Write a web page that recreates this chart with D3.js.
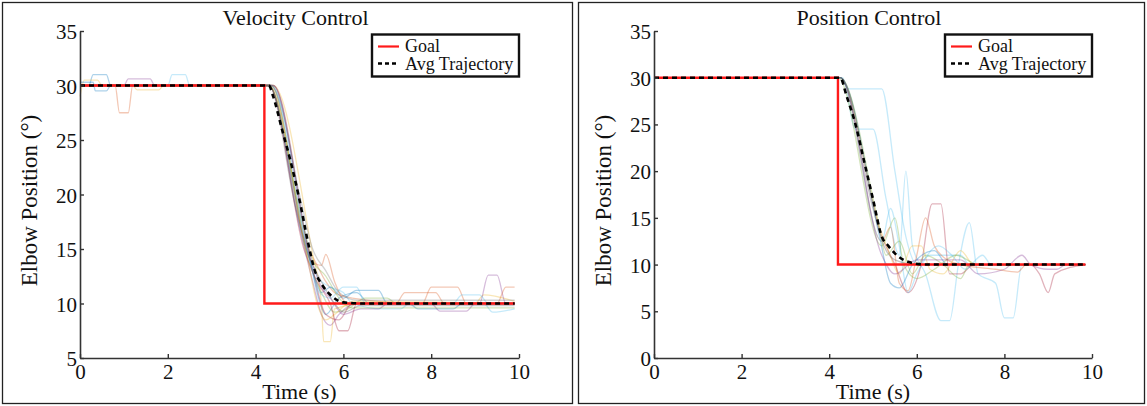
<!DOCTYPE html>
<html>
<head>
<meta charset="utf-8">
<script src="https://cdn.jsdelivr.net/npm/d3@7"></script>
<style>
  body { margin: 0; background: #fff; }
  svg text { font-family: "Liberation Serif", "Times New Roman", serif; fill: #111; }
</style>
</head>
<body>
<div id="chart"></div>
<script>
// Data
const xTicks = [0, 2, 4, 6, 8, 10];
const velTicks = [5, 10, 15, 20, 25, 30, 35];
const posTicks = [0, 5, 10, 15, 20, 25, 30, 35];

const velGoal = [[0, 30], [4.2, 30], [4.2, 10], [9.9, 10]];
const posGoal = [[0, 30], [4.2, 30], [4.2, 10], [9.85, 10]];

const velAvg = [[0, 30], [4.3, 30], [4.4, 29], [4.6, 26], [4.8, 23], [5.0, 19.5], [5.2, 15.5],
  [5.35, 13], [5.5, 11.8], [5.7, 10.8], [6.0, 10.1], [6.5, 10], [9.9, 10]];
const posAvg = [[0, 30], [4.25, 30], [4.4, 28], [4.6, 25], [4.8, 21], [5.0, 17], [5.2, 13],
  [5.35, 12], [5.5, 11.2], [5.8, 10.3], [6.2, 10], [9.85, 10]];

const velTrials = [
  [[0,30],[0.2,30],[0.3,31],[0.6,31],[0.7,30],[4.35,30],[5.2,15],[5.4,11],[5.6,9],[5.9,10.5],[6.3,11],[6.6,10],[7.5,10],[7.7,9.5],[8.5,9.5],[8.7,10],[9.9,10]],
  [[0,30],[0.8,30],[0.9,27.5],[1.1,27.5],[1.2,30],[4.3,30],[5.1,16],[5.4,13.5],[5.6,12],[5.8,11],[6.2,10.5],[7.8,10],[8.0,11.5],[8.6,11.5],[8.8,10],[9.9,10]],
  [[0,29],[0.1,30.5],[0.4,30.5],[0.5,30],[4.4,30],[5.3,14.5],[5.5,10],[5.55,6.5],[5.7,6.5],[5.8,9.5],[6.5,10],[9.0,10],[9.2,10.8],[9.9,10.2]],
  [[0,30],[1.0,30],[1.1,30.6],[1.6,30.6],[1.7,30],[4.3,30],[5.0,17],[5.3,12],[5.5,9],[5.7,8],[5.9,9],[6.3,10],[9.1,10],[9.3,12.6],[9.5,12.6],[9.7,10],[9.9,10]],
  [[0,30],[4.35,30],[5.2,14],[5.5,11],[5.8,9.2],[6.1,9.5],[6.5,10.5],[7.0,10.5],[7.2,10],[9.9,10]],
  [[0,30],[2.0,30],[2.1,31],[2.4,31],[2.5,30],[4.3,30],[5.1,15.5],[5.4,12.5],[5.7,11.5],[6.0,11],[6.2,10],[6.9,9.5],[7.3,9.5],[7.5,10],[9.2,10],[9.4,9.2],[9.9,9.5]],
  [[0,30],[4.4,30],[5.3,13],[5.6,9],[5.9,8.5],[6.2,10],[9.9,10]],
  [[0,30.3],[0.3,30.3],[0.35,29.5],[0.6,29.5],[0.7,30],[4.3,30],[5.0,18],[5.3,13],[5.5,11],[5.7,11.5],[6.0,10.5],[6.3,11.2],[6.8,11.2],[7.0,10],[9.9,10]],
  [[0,30],[4.35,30],[5.25,14],[5.5,13.5],[5.6,14.5],[5.8,12],[6.1,10],[7.2,10],[7.4,11],[8.1,11],[8.3,10],[9.5,10],[9.7,11.5],[9.9,11.5]],
  [[0,30],[1.2,30],[1.3,29.6],[1.8,29.6],[1.9,30],[4.3,30],[5.1,16],[5.4,10],[5.6,8.5],[5.8,9],[6.2,10.2],[9.9,10]],
  [[0,30],[4.4,30],[5.2,15],[5.5,11.5],[5.7,10.5],[6.0,9],[6.4,9.5],[6.8,9.5],[7.0,10],[8.0,10],[8.2,9.3],[8.8,9.3],[9.0,10],[9.9,10]],
  [[0,30],[4.3,30],[5.0,18.5],[5.3,14],[5.6,12.5],[5.9,10.5],[6.2,9.6],[9.9,9.6]],
  [[0,30],[4.35,30],[5.2,14.5],[5.45,11],[5.7,10.5],[6.0,11.5],[6.3,11.5],[6.5,10],[8.5,10],[8.7,10.8],[9.1,10.8],[9.3,10],[9.9,10]],
  [[0,30],[4.3,30],[5.1,15],[5.4,12],[5.7,10],[5.9,7.5],[6.1,7.5],[6.3,10],[9.9,10]],
  [[0,30],[4.3,30],[4.9,19],[5.2,14.5],[5.5,12],[5.8,10],[6.0,9.2],[6.4,9.8],[9.9,9.8]],
  [[0,30],[4.4,30],[5.0,20],[5.3,15],[5.6,13],[5.9,11],[6.3,10.3],[9.9,10.3]]
];
const velColors = ['#0072BD', '#D95319', '#EDB120', '#7E2F8E', '#77AC30', '#4DBEEE', '#A2142F',
  '#0072BD', '#D95319', '#EDB120', '#7E2F8E', '#77AC30', '#4DBEEE', '#A2142F', '#555555', '#777777'];

const posTrials = [
  [[0,30],[4.25,30],[4.45,28.8],[5.2,28.8],[5.5,20],[5.75,13],[6.0,10],[6.3,11],[7.0,11],[7.2,10],[9.85,10]],
  [[0,30],[4.3,30],[4.6,24.5],[5.0,24.5],[5.3,17],[5.6,11],[5.75,20],[5.9,12],[6.2,9],[6.55,4],[6.75,4],[6.95,10],[7.2,14.5],[7.4,9],[7.8,8],[8.0,4.3],[8.2,4.3],[8.4,10],[9.85,10]],
  [[0,30],[4.25,30],[5.2,13],[5.5,10],[5.8,7],[6.1,10],[6.35,16.5],[6.55,16.5],[6.75,9],[7.0,9],[7.3,10],[8.6,10],[8.8,9],[9.0,7],[9.15,9],[9.85,10]],
  [[0,30],[4.25,30],[5.2,12.5],[5.4,14],[5.6,8],[5.8,7.2],[6.0,11],[6.2,15],[6.4,12],[6.7,10.5],[7.0,10],[7.8,9.5],[8.3,9.2],[8.5,10],[9.85,10]],
  [[0,30],[4.25,30],[5.15,14],[5.35,11.5],[5.6,9],[5.9,12],[6.1,12],[6.3,9.5],[6.6,9],[7.0,11.5],[7.3,10],[8.5,10],[9.85,10]],
  [[0,30],[4.2,30],[5.2,12],[5.5,15],[5.7,10],[6.0,8.5],[6.4,9.5],[6.9,11],[7.4,10],[9.85,10]],
  [[0,30],[4.25,30],[5.1,15],[5.3,11],[5.6,12.5],[5.9,9],[6.2,11],[6.6,10],[7.0,8.5],[7.2,10],[9.85,10]],
  [[0,30],[4.25,30],[5.2,12.5],[5.4,16],[5.6,12],[5.8,7],[6.0,9],[6.5,12],[6.8,11],[7.1,9.5],[7.5,11],[7.7,10],[9.85,10]],
  [[0,30],[4.25,30],[5.2,11],[5.5,9],[6.0,10.5],[7.0,10.5],[7.4,9],[8.0,9.5],[8.4,11],[8.6,10],[9.0,9.5],[9.2,9.5],[9.4,10],[9.85,10]],
  [[0,30],[4.25,30],[5.15,13],[5.4,8],[5.6,7.5],[5.9,10],[6.4,11.5],[6.7,10],[9.85,10]],
  [[0,30],[4.25,30],[5.0,16],[5.25,12],[5.5,10.5],[6.0,10],[9.85,10]]
];
const posColors = ['#4DBEEE', '#4DBEEE', '#A2142F', '#D95319', '#EDB120', '#77AC30', '#77AC30',
  '#4DBEEE', '#7E2F8E', '#0072BD', '#555555'];

const svg = d3.select('#chart')
  .append('svg')
  .attr('width', 1147)
  .attr('height', 406);

function drawPanel(p) {
  // panel frame
  svg.append('rect')
    .attr('x', p.box[0]).attr('y', 2.5)
    .attr('width', p.box[1]).attr('height', 401)
    .attr('fill', 'none').attr('stroke', '#222').attr('stroke-width', 1.3);

  const x = d3.scaleLinear().domain([0, 10]).range([p.left, p.right]);
  const y = d3.scaleLinear().domain(p.yDomain).range([358, 31]);

  const line = d3.line().x(d => x(d[0])).y(d => y(d[1]));
  const smooth = d3.line().x(d => x(d[0])).y(d => y(d[1])).curve(d3.curveMonotoneX);

  const g = svg.append('g');

  // individual trials
  g.selectAll('path.trial')
    .data(p.trials)
    .enter()
    .append('path')
    .attr('class', 'trial')
    .attr('d', smooth)
    .attr('fill', 'none')
    .attr('stroke', (d, i) => p.colors[i])
    .attr('stroke-opacity', 0.32)
    .attr('stroke-width', 1.3);

  g.append('path')
    .attr('d', line(p.goal))
    .attr('fill', 'none')
    .attr('stroke', '#ff1a1a')
    .attr('stroke-width', 2.4);

  g.append('path')
    .attr('d', smooth(p.avg))
    .attr('fill', 'none')
    .attr('stroke', '#000')
    .attr('stroke-width', 2.6)
    .attr('stroke-dasharray', '5,4');

  // axes
  const xAxis = svg.append('g')
    .attr('transform', `translate(0,358)`)
    .call(d3.axisBottom(x).tickValues(xTicks).tickSizeInner(-4).tickSizeOuter(0).tickPadding(6));
  const yAxis = svg.append('g')
    .attr('transform', `translate(${p.left},0)`)
    .call(d3.axisLeft(y).tickValues(p.yTicks).tickSizeInner(-4).tickSizeOuter(0).tickPadding(3));
  [xAxis, yAxis].forEach(a => {
    a.select('.domain').attr('stroke', '#333').attr('stroke-width', 1.6);
    a.selectAll('.tick line').attr('stroke', '#333').attr('stroke-width', 1.4);
    a.selectAll('.tick text').style('font-size', '21px').attr('fill', '#111')
      .style('font-family', '"Liberation Serif", serif');
  });
  yAxis.selectAll('.tick text').attr('dy', '0.36em');

  // title and labels
  svg.append('text')
    .attr('x', (p.left + p.right) / 2 - 4).attr('y', 25)
    .attr('text-anchor', 'middle')
    .style('font-size', '22px')
    .text(p.title);
  svg.append('text')
    .attr('x', (p.left + p.right) / 2).attr('y', 399)
    .attr('text-anchor', 'middle')
    .style('font-size', '22px')
    .text('Time (s)');
  svg.append('text')
    .attr('transform', `translate(${p.left - 43},${y((p.yDomain[0] + p.yDomain[1]) / 2) + 6}) rotate(-90)`)
    .attr('text-anchor', 'middle')
    .style('font-size', '23px')
    .text('Elbow Position (°)');

  // legend
  const lx = p.right - 147, ly = 34.5;
  const leg = svg.append('g');
  leg.append('rect')
    .attr('x', lx).attr('y', ly).attr('width', 147).attr('height', 42)
    .attr('fill', '#fff').attr('stroke', '#111').attr('stroke-width', 2.4);
  leg.append('line')
    .attr('x1', lx + 6).attr('x2', lx + 27).attr('y1', ly + 12).attr('y2', ly + 12)
    .attr('stroke', '#ff1a1a').attr('stroke-width', 2.2);
  leg.append('line')
    .attr('x1', lx + 6).attr('x2', lx + 27).attr('y1', ly + 29).attr('y2', ly + 29)
    .attr('stroke', '#000').attr('stroke-width', 2.6).attr('stroke-dasharray', '4,3');
  leg.append('text')
    .attr('x', lx + 33).attr('y', ly + 17)
    .style('font-size', '18px')
    .text('Goal');
  leg.append('text')
    .attr('x', lx + 33).attr('y', ly + 35)
    .style('font-size', '18px')
    .text('Avg Trajectory');
}

drawPanel({ box: [2.5, 570], left: 80, right: 519, yDomain: [5, 35], yTicks: velTicks,
  title: 'Velocity Control', trials: velTrials, colors: velColors, goal: velGoal, avg: velAvg });
drawPanel({ box: [578.5, 566], left: 654, right: 1092, yDomain: [0, 35], yTicks: posTicks,
  title: 'Position Control', trials: posTrials, colors: posColors, goal: posGoal, avg: posAvg });
</script>
</body>
</html>
